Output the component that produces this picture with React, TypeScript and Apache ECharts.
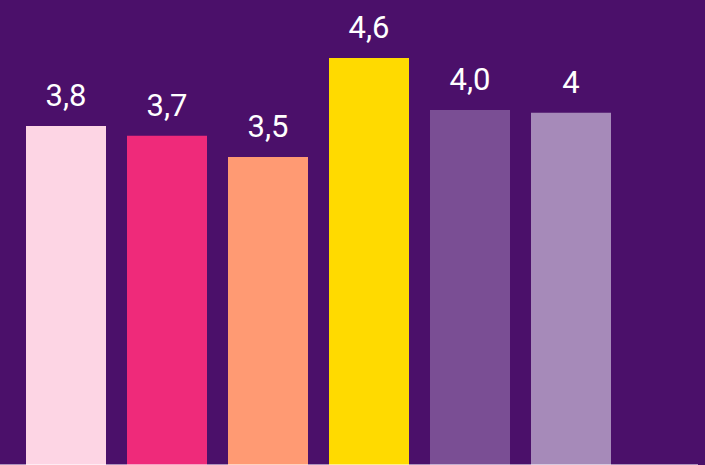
import React, { useEffect, useRef } from "react";
import * as echarts from "echarts";

const categories = ["A", "B", "C", "D", "E", "F"];
const values = [3.83, 3.72, 3.48, 4.6, 4.01, 3.98];
const labels = ["3,8", "3,7", "3,5", "4,6", "4,0", "4"];
const colors = ["#FDD5E4", "#EF2A7A", "#FF9A73", "#FFDA00", "#7A4E94", "#A68AB9"];

export default function App() {
  const ref = useRef<HTMLDivElement>(null);
  useEffect(() => {
    if (!ref.current) return;
    const chart = echarts.init(ref.current, null, { renderer: "svg" });
    chart.setOption({
      animation: false,
      backgroundColor: "#4B106A",
      grid: { left: 15.5, width: 606, top: 22.5, bottom: 0, containLabel: false },
      xAxis: {
        type: "category",
        data: categories,
        axisLine: { show: false },
        axisTick: { show: false },
        axisLabel: { show: false },
      },
      yAxis: {
        type: "value",
        min: 0,
        max: 5,
        axisLine: { show: false },
        axisTick: { show: false },
        axisLabel: { show: false },
        splitLine: { show: false },
      },
      series: [
        {
          type: "bar",
          barWidth: 80,
          data: values.map((v, i) => ({ value: v, itemStyle: { color: colors[i] } })),
          label: {
            show: true,
            position: "top",
            distance: 15,
            color: "#FFFFFF",
            fontSize: 31,
            fontFamily: "'Liberation Sans Narrow', 'Roboto', sans-serif",
            formatter: (p: any) => labels[p.dataIndex],
          },
        },
      ],
      graphic: [
        {
          type: "line",
          z: 100,
          shape: { x1: 0, y1: 464.5, x2: 698, y2: 464.5 },
          style: { stroke: "rgba(255,255,255,0.55)", lineWidth: 1 },
        },
      ],
    });
    return () => chart.dispose();
  }, []);
  return (
    <div
      ref={ref}
      style={{ position: "fixed", left: 0, top: 0, width: 705, height: 465 }}
    />
  );
}
